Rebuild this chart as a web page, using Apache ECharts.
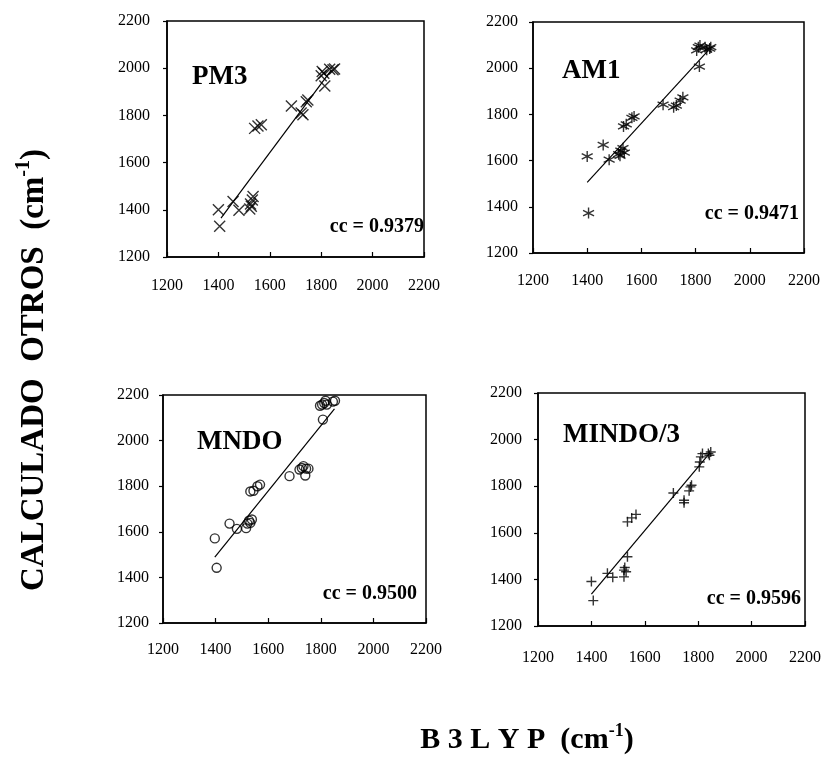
<!DOCTYPE html>
<html>
<head>
<meta charset="utf-8">
<script src="https://cdn.jsdelivr.net/npm/echarts@6/dist/echarts.min.js"></script>
<style>
	html, body { margin: 0; padding: 0; background: #fff; }
	#chart { width: 827px; height: 759px; }
</style>
</head>
<body>
<div id="chart"></div>
<script>
// ticks shared by every panel
const tickValues = [1200, 1400, 1600, 1800, 2000, 2200]

// PM3
const pm3X = [1400, 1405, 1457, 1480, 1522, 1525, 1528, 1532, 1535, 1541, 1554, 1567, 1684, 1722, 1729, 1742, 1748, 1800, 1804, 1810, 1814, 1833, 1846, 1852]
const pm3Y = [1400, 1330, 1435, 1398, 1403, 1425, 1415, 1442, 1456, 1745, 1755, 1760, 1840, 1810, 1803, 1858, 1865, 1968, 1986, 1979, 1925, 1996, 1993, 1997]
const pm3FitX = [1410, 1840]
const pm3FitY = [1365, 1993]

// AM1
const am1X = [1400, 1405, 1459, 1481, 1516, 1521, 1524, 1532, 1537, 1534, 1544, 1565, 1573, 1680, 1719, 1729, 1743, 1753, 1804, 1810, 1816, 1814, 1835, 1841, 1856, 1852]
const am1Y = [1618, 1373, 1668, 1604, 1628, 1621, 1643, 1654, 1635, 1748, 1757, 1785, 1791, 1842, 1831, 1838, 1860, 1874, 2077, 2091, 2098, 2007, 2091, 2080, 2091, 2085]
const am1FitX = [1400, 1847]
const am1FitY = [1506, 2077]

// MNDO
const mndoX = [1397, 1404, 1453, 1481, 1516, 1521, 1527, 1532, 1538, 1532, 1544, 1559, 1569, 1681, 1719, 1728, 1734, 1744, 1753, 1741, 1797, 1805, 1813, 1818, 1823, 1808, 1846, 1854]
const mndoY = [1571, 1442, 1636, 1613, 1616, 1636, 1649, 1639, 1654, 1777, 1780, 1800, 1807, 1844, 1873, 1880, 1888, 1877, 1877, 1847, 2153, 2158, 2165, 2175, 2158, 2092, 2171, 2175]
const mndoFitX = [1397, 1852]
const mndoFitY = [1489, 2139]

// MINDO/3
const mindoX = [1400, 1407, 1460, 1480, 1522, 1522, 1525, 1530, 1535, 1535, 1551, 1567, 1707, 1747, 1747, 1766, 1771, 1775, 1804, 1806, 1810, 1816, 1838, 1847, 1842]
const mindoY = [1391, 1309, 1426, 1409, 1411, 1440, 1451, 1433, 1497, 1647, 1664, 1679, 1771, 1729, 1740, 1780, 1797, 1804, 1883, 1904, 1926, 1940, 1940, 1947, 1933]
const mindoFitX = [1400, 1844]
const mindoFitY = [1337, 1943]

const panelNames = ['PM3', 'AM1', 'MNDO', 'MINDO/3']
const ccLabels = ['cc = 0.9379', 'cc = 0.9471', 'cc = 0.9500', 'cc = 0.9596']
const yTitle = 'CALCULADO  OTROS  (cm'
const xTitle = 'B 3 L Y P  (cm'
const supText = '-1'

const FONT = '"Liberation Serif", "Times New Roman", serif'

const zip = (xs, ys) => xs.map((x, i) => [x, ys[i]])

const symX = 'path://M0,0L10,10M10,0L0,10'
const symStar = 'path://M5,0L5,10M0.7,2.5L9.3,7.5M9.3,2.5L0.7,7.5'
const symPlus = 'path://M5,0L5,10M0,5L10,5'

const panels = [
	{ pts: zip(pm3X, pm3Y), fit: zip(pm3FitX, pm3FitY), symbol: symX, size: 11, grid: { left: 167, top: 21, width: 257, height: 236 }, xm: 21, ym: 17, name: [192, 77], cc: [424, 227] },
	{ pts: zip(am1X, am1Y), fit: zip(am1FitX, am1FitY), symbol: symStar, size: 11, grid: { left: 533, top: 22, width: 271, height: 231 }, xm: 20, ym: 15, name: [562, 71], cc: [799, 214] },
	{ pts: zip(mndoX, mndoY), fit: zip(mndoFitX, mndoFitY), symbol: 'circle', size: 9, grid: { left: 163, top: 395, width: 263, height: 228 }, xm: 19, ym: 14, name: [197, 442], cc: [417, 594] },
	{ pts: zip(mindoX, mindoY), fit: zip(mindoFitX, mindoFitY), symbol: symPlus, size: 10, grid: { left: 538, top: 393, width: 267, height: 233 }, xm: 24, ym: 16, name: [563, 435], cc: [801, 599] },
]

const axisBase = {
	type: 'value',
	min: tickValues[0],
	max: tickValues[tickValues.length - 1],
	interval: 200,
	splitLine: { show: false },
	axisLine: { show: true, onZero: false, lineStyle: { color: '#000', width: 1.5 } },
}

let option = {
	animation: false,
	backgroundColor: '#fff',
	grid: panels.map((p) => ({ ...p.grid, show: true, borderColor: '#000', borderWidth: 1.5 })),
	xAxis: panels.map((p, i) => ({
		...axisBase,
		gridIndex: i,
		axisTick: { show: true, inside: true, length: 5, lineStyle: { color: '#000', width: 1.2 } },
		axisLabel: { margin: p.xm, color: '#000', fontSize: 16, fontFamily: FONT, formatter: (v) => String(v) },
	})),
	yAxis: panels.map((p, i) => ({
		...axisBase,
		gridIndex: i,
		axisTick: { show: true, inside: false, length: 4, lineStyle: { color: '#000', width: 1.2 } },
		axisLabel: { margin: p.ym, color: '#000', fontSize: 16, fontFamily: FONT, formatter: (v) => String(v) },
	})),
	series: [],
	graphic: [],
}

panels.forEach((p, i) => {
	option.series.push({
		type: 'scatter',
		xAxisIndex: i,
		yAxisIndex: i,
		symbol: p.symbol,
		symbolSize: p.size,
		itemStyle: { color: 'rgba(0,0,0,0)', borderColor: '#000', borderWidth: 1.4 },
		emphasis: { disabled: true },
		data: p.pts,
	})
	option.series.push({
		type: 'line',
		xAxisIndex: i,
		yAxisIndex: i,
		symbol: 'none',
		lineStyle: { color: '#000', width: 1.2 },
		emphasis: { disabled: true },
		data: p.fit,
	})
	option.graphic.push({
		type: 'text',
		x: p.name[0],
		y: p.name[1],
		style: { text: panelNames[i], fontSize: 27, fontWeight: 'bold', fontFamily: FONT, fill: '#000', align: 'left', verticalAlign: 'middle' },
	})
	option.graphic.push({
		type: 'text',
		x: p.cc[0],
		y: p.cc[1],
		style: { text: ccLabels[i], fontSize: 20, fontWeight: 'bold', fontFamily: FONT, fill: '#000', align: 'right', verticalAlign: 'middle' },
	})
})

// axis titles with superscript
const xRich = {
	a: { fontSize: 30, fontWeight: 'bold', fontFamily: FONT, fill: '#000', lineHeight: 36 },
	s: { fontSize: 18, fontWeight: 'bold', fontFamily: FONT, fill: '#000', verticalAlign: 'top', lineHeight: 36, padding: [0, 0, 14, 0] },
}
const yRich = {
	a: { fontSize: 33, fontWeight: 'bold', fontFamily: FONT, fill: '#000', lineHeight: 40 },
	s: { fontSize: 20, fontWeight: 'bold', fontFamily: FONT, fill: '#000', verticalAlign: 'top', lineHeight: 40, padding: [0, 0, 16, 0] },
}
option.graphic.push({
	type: 'text',
	x: 527,
	y: 740,
	style: { text: '{a|' + xTitle + '}{s|' + supText + '}{a|)}', rich: xRich, align: 'center', verticalAlign: 'middle' },
})
option.graphic.push({
	type: 'text',
	x: 34,
	y: 370,
	rotation: Math.PI / 2,
	style: { text: '{a|' + yTitle + '}{s|' + supText + '}{a|)}', rich: yRich, align: 'center', verticalAlign: 'middle' },
})

const myChart = echarts.init(document.getElementById('chart'))
myChart.setOption(option)
</script>
</body>
</html>
